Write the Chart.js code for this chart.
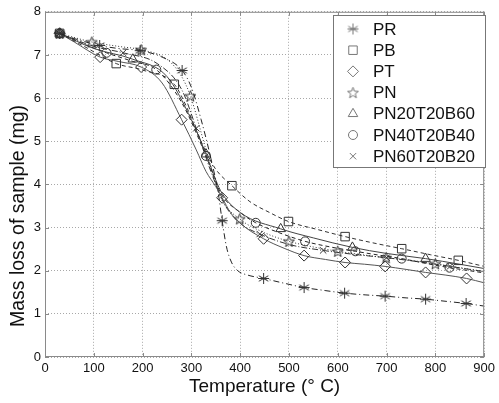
<!DOCTYPE html>
<html><head><meta charset="utf-8">
<script src="https://cdn.jsdelivr.net/npm/chart.js@4.4.0/dist/chart.umd.min.js"></script>
<style>html,body{margin:0;padding:0;background:#fff;}#wrap{width:499px;height:403px;}</style>
</head><body><div id="wrap"><canvas id="c" width="499" height="403"></canvas></div>
<script>
// ---- data (temperature °C, mass mg) ----
const seriesNames = ['PR','PB','PT','PN','PN20T20B60','PN40T20B40','PN60T20B20'];
const xTicks = [0,100,200,300,400,500,600,700,800,900];
const yTicks = [0,1,2,3,4,5,6,7,8];

const prT = [30,60,112,150,195,240,281,300,320,340,355,363,372,382,395,415,448,490,531,574,614,656,697,740,780,822,863,900];
const prM = [7.5,7.38,7.22,7.15,7.1,6.95,6.64,6.25,5.5,4.6,3.8,3.16,2.55,2.2,2.0,1.9,1.82,1.71,1.61,1.54,1.48,1.44,1.41,1.37,1.34,1.29,1.24,1.18];
const prMarks = [30,112,195,281,363,448,531,614,697,780,863];

const pbT = [30,80,146,200,265,290,310,330,350,383,420,460,499,560,615,670,731,790,847,900];
const pbM = [7.5,7.2,6.8,6.65,6.32,5.8,5.25,4.75,4.35,3.97,3.6,3.35,3.14,2.95,2.79,2.65,2.51,2.37,2.24,2.1];
const pbMarks = [30,146,265,383,499,615,731,847];

const ptT = [30,60,113,150,197,240,280,310,330,350,363,380,400,448,490,531,575,615,655,697,740,780,820,864,900];
const ptM = [7.5,7.3,6.95,6.85,6.72,6.35,5.5,4.8,4.3,3.95,3.69,3.35,3.1,2.74,2.52,2.35,2.26,2.19,2.15,2.1,2.03,1.96,1.9,1.82,1.72];
const ptMarks = [30,113,197,280,363,448,531,615,697,780,864];

const pnT = [30,96,150,197,250,280,298,330,360,399,450,500,550,600,650,699,750,800,850,900];
const pnM = [7.5,7.3,7.2,7.12,6.9,6.5,6.05,4.8,3.7,3.2,2.88,2.68,2.55,2.45,2.37,2.3,2.24,2.16,2.07,1.98];
const pnMarks = [30,96,197,298,399,500,600,699,800];

const p226T = [30,100,180,250,300,330,360,400,483,550,630,700,780,850,900];
const p226M = [7.5,7.15,6.9,6.5,5.5,4.7,3.85,3.35,2.97,2.76,2.54,2.4,2.28,2.15,2.05];
const p226Marks = [30,180,330,483,630,780];

const p424T = [30,80,126,180,228,280,330,360,400,432,480,533,585,636,685,731,780,829,870,900];
const p424M = [7.5,7.25,7.05,6.85,6.66,5.9,4.66,3.8,3.35,3.11,2.88,2.68,2.55,2.45,2.36,2.28,2.17,2.07,2.0,1.95];
const p424Marks = [30,126,228,330,432,533,636,731,829];

const p622T = [30,100,160,230,280,310,340,370,400,440,503,570,640,700,770,830,900];
const p622M = [7.5,7.2,7.05,6.8,6.2,5.3,4.3,3.5,3.1,2.85,2.6,2.47,2.37,2.3,2.2,2.1,1.98];
const p622Marks = [30,160,310,440,570,700,830];

// ---- marker images ----
function mkCanvas(size, col, draw){const c=document.createElement('canvas');c.width=size;c.height=size;const g=c.getContext('2d');g.strokeStyle=col;g.lineWidth=1;draw(g,size/2);return c;}
const drawAst=(g,h)=>{g.beginPath();for(let i=0;i<3;i++){const a=Math.PI/2+i*Math.PI/3;const r=5.5;g.moveTo(h+r*Math.cos(a),h-r*Math.sin(a));g.lineTo(h-r*Math.cos(a),h+r*Math.sin(a));}g.moveTo(h-5.5,h);g.lineTo(h+5.5,h);g.stroke();};
const drawPent=(g,h)=>{g.beginPath();for(let i=0;i<10;i++){const r=i%2?2.4:5.8;const a=-Math.PI/2+i*Math.PI/5;const x=h+r*Math.cos(a),y=h+0.5+r*Math.sin(a);if(i===0)g.moveTo(x,y);else g.lineTo(x,y);}g.closePath();g.stroke();};
const asterisk = mkCanvas(13,'#333',drawAst);
const pentagram = mkCanvas(13,'#333',drawPent);
const asteriskL = mkCanvas(13,'#777',drawAst);
const pentagramL = mkCanvas(13,'#777',drawPent);

const styles = [
  {T:prT,M:prM,marks:prMarks,ps:asterisk,lps:asteriskL,r:5,dash:[6,3,1,3],col:'#222'},
  {T:pbT,M:pbM,marks:pbMarks,ps:'rect',r:6,dash:[4,3],col:'#333'},
  {T:ptT,M:ptM,marks:ptMarks,ps:'rectRot',r:5.5,dash:[],col:'#555'},
  {T:pnT,M:pnM,marks:pnMarks,ps:pentagram,lps:pentagramL,r:5,dash:[1,2],col:'#333'},
  {T:p226T,M:p226M,marks:p226Marks,ps:'triangle',r:5.5,dash:[],col:'#444'},
  {T:p424T,M:p424M,marks:p424Marks,ps:'circle',r:4.5,dash:[4,3],col:'#222'},
  {T:p622T,M:p622M,marks:p622Marks,ps:'crossRot',r:4.5,dash:[6,2,1,2],col:'#333'}
];

const datasets = styles.map((s,i)=>({
  label: seriesNames[i],
  data: s.T.map((t,j)=>({x:t,y:s.M[j]})),
  borderColor: s.col,
  borderWidth: 1,
  borderDash: s.dash,
  backgroundColor: 'rgba(0,0,0,0)',
  pointBorderColor: '#333',
  pointBackgroundColor: 'rgba(0,0,0,0)',
  pointBorderWidth: 1,
  pointStyle: s.ps,
  pointRadius: s.T.map(t=>s.marks.includes(t)?s.r:0),
  cubicInterpolationMode: 'monotone',
  fill: false
}));

const FONT = "'Liberation Sans', Arial, sans-serif";

const decor = {
  id:'decor',
  afterDatasetsDraw(chart){
    const {ctx, chartArea:a, scales:{x,y}} = chart;
    ctx.save();
    // frame
    ctx.strokeStyle='#8a8a8a'; ctx.lineWidth=1; ctx.setLineDash([]);
    ctx.strokeRect(a.left+0.5, a.top+0.5, a.right-a.left-1, a.bottom-a.top-1);
    // inward tick marks
    ctx.beginPath();
    xTicks.forEach(v=>{const px=Math.round(x.getPixelForValue(v))+0.5;ctx.moveTo(px,a.bottom);ctx.lineTo(px,a.bottom-4);ctx.moveTo(px,a.top);ctx.lineTo(px,a.top+4);});
    yTicks.forEach(v=>{const py=Math.round(y.getPixelForValue(v))+0.5;ctx.moveTo(a.left,py);ctx.lineTo(a.left+4,py);ctx.moveTo(a.right,py);ctx.lineTo(a.right-4,py);});
    ctx.stroke();
    // legend
    const lx=333, ly=15, lw=152, lh=152;
    ctx.fillStyle='#fff'; ctx.fillRect(lx,ly,lw,lh);
    ctx.strokeStyle='#777'; ctx.strokeRect(lx+0.5,ly+0.5,lw,lh);
    ctx.font='17px '+FONT; ctx.textBaseline='middle'; ctx.textAlign='left';
    seriesNames.forEach((n,i)=>{
      const yy = ly+14+i*21.2;
      const s = styles[i];
      ctx.strokeStyle='#777'; ctx.fillStyle='rgba(0,0,0,0)'; ctx.lineWidth=1;
      Chart.helpers.drawPoint(ctx,{pointStyle:s.lps||s.ps,radius:s.r,borderWidth:1,rotation:0},353,yy);
      ctx.fillStyle='#111';
      ctx.fillText(n,373,yy+1);
    });
    // axis titles
    ctx.fillStyle='#111'; ctx.textAlign='center'; ctx.textBaseline='middle';
    ctx.font='19px '+FONT;
    ctx.fillText('Temperature (° C)', (a.left+a.right)/2, 387);
    ctx.save(); ctx.translate(19, 216); ctx.rotate(-Math.PI/2);
    ctx.font='19.5px '+FONT;
    ctx.fillText('Mass loss of sample (mg)',0,0); ctx.restore();
    ctx.restore();
  }
};

new Chart(document.getElementById('c'), {
  type:'line',
  data:{datasets},
  options:{
    responsive:false, animation:false, devicePixelRatio:1,
    layout:{padding:{top:10,right:12,left:0,bottom:0}},
    plugins:{legend:{display:false},tooltip:{enabled:false}},
    scales:{
      x:{type:'linear',min:0,max:900,
        afterBuildTicks(s){s.ticks=xTicks.map(v=>({value:v}));},
        afterFit(s){s.height=46;},
        ticks:{color:'#111',font:{size:13,family:FONT},padding:4,maxRotation:0,autoSkip:false},
        grid:{color:'#a8a8a8',lineWidth:1,drawTicks:false},
        border:{display:false,dash:[1,2]}},
      y:{type:'linear',min:0,max:8,
        afterBuildTicks(s){s.ticks=yTicks.map(v=>({value:v}));},
        afterFit(s){s.width=45;},
        ticks:{color:'#111',font:{size:13,family:FONT},padding:4,autoSkip:false},
        grid:{color:'#a8a8a8',lineWidth:1,drawTicks:false},
        border:{display:false,dash:[1,2]}}
    }
  },
  plugins:[decor]
});
</script></body></html>
